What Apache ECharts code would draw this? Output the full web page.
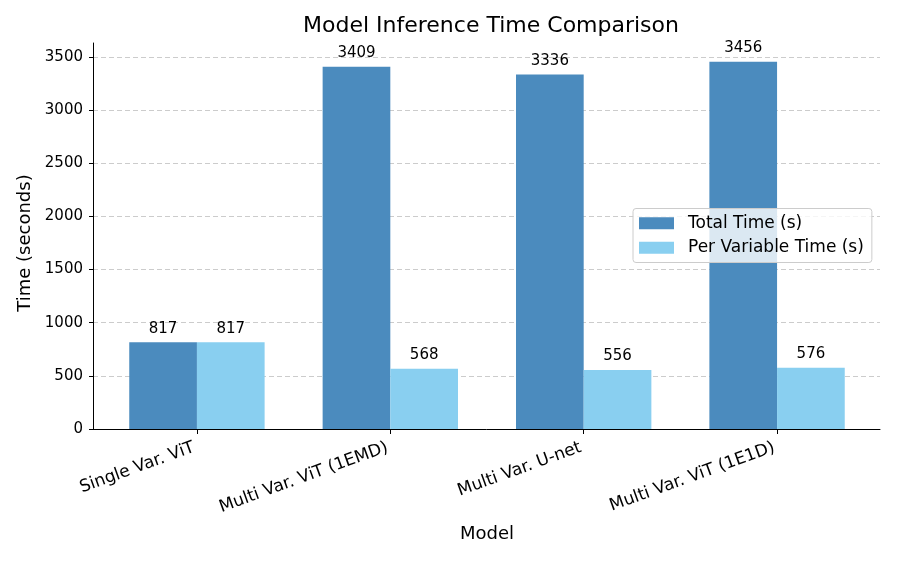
<!DOCTYPE html>
<html><head><meta charset="utf-8">
<script src="https://cdn.jsdelivr.net/npm/echarts@6/dist/echarts.min.js"></script>
<style>html,body{margin:0;padding:0;background:#fff}#c{width:897px;height:561px}</style>
</head><body><div id="c"></div>
<script>
const categories = ['Single Var. ViT', 'Multi Var. ViT (1EMD)', 'Multi Var. U-net', 'Multi Var. ViT (1E1D)'];
const totalTime = [817, 3409, 3336, 3456];
const perVarTime = [817, 568, 556, 576];
const seriesNames = ['Total Time (s)', 'Per Variable Time (s)'];

const F = 'DejaVu Sans';
const chart = echarts.init(document.getElementById('c'));
const lbl = {show: true, position: 'top', distance: 6, color: '#000', fontSize: 15, fontFamily: F};
chart.setOption({
  animation: false,
  textStyle: {fontFamily: F},
  title: {text: 'Model Inference Time Comparison', left: 486, top: 10, textAlign: 'center',
    textStyle: {fontFamily: F, fontSize: 22, fontWeight: 'normal', color: '#000'}},
  legend: {orient: 'vertical', left: 633, top: 208.5, itemWidth: 35, itemHeight: 12, itemGap: 4.5,
    icon: 'rect',
    padding: [4.75, 8, 4.75, 6], borderColor: '#ccc', borderWidth: 1, borderRadius: 3,
    backgroundColor: 'rgba(255,255,255,0.8)',
    textStyle: {fontFamily: F, fontSize: 17, lineHeight: 20, color: '#000', padding: [0, 0, 0, 9]},
    data: seriesNames},
  grid: [
    {left: 100.25, right: 23.25, top: 57, bottom: 132},
    {left: 93, right: 17, top: 57, bottom: 132},
    {left: 93, right: 17, top: 43, bottom: 132}
  ],
  xAxis: [
    {type: 'category', gridIndex: 0, data: categories, boundaryGap: true,
      axisLine: {show: false},
      axisTick: {show: true, alignWithLabel: true, length: 5, lineStyle: {color: '#000'}},
      axisLabel: {rotate: 20, color: '#000', fontSize: 17, fontFamily: F, margin: 17, interval: 0,
        padding: [0, 3, 0, 0]},
      name: 'Model', nameLocation: 'middle', nameGap: 96,
      nameTextStyle: {fontFamily: F, fontSize: 18, color: '#000'}},
    {type: 'value', gridIndex: 1, min: 0, max: 1,
      axisLine: {show: true, lineStyle: {color: '#000', width: 1}},
      axisTick: {show: false}, axisLabel: {show: false}, splitLine: {show: false}},
    {type: 'value', gridIndex: 2, min: 0, max: 1, show: false}
  ],
  yAxis: [
    {type: 'value', gridIndex: 0, min: 0, max: 3500, show: false, splitLine: {show: false}},
    {type: 'value', gridIndex: 1, min: 0, max: 3500, interval: 500,
      axisLine: {show: false},
      axisTick: {show: true, length: 4, lineStyle: {color: '#000'}},
      axisLabel: {color: '#000', fontSize: 15, fontFamily: F, margin: 10,
        formatter: v => String(v)},
      splitLine: {show: true, lineStyle: {color: '#ccc', type: [5, 3], width: 1}},
      name: 'Time (seconds)', nameLocation: 'middle', nameGap: 54,
      nameTextStyle: {fontFamily: F, fontSize: 18, color: '#000'}},
    {type: 'value', gridIndex: 2, min: 0, max: 1,
      axisLine: {show: true, lineStyle: {color: '#000', width: 1}},
      axisTick: {show: false}, axisLabel: {show: false}, splitLine: {show: false}}
  ],
  series: [
    {name: seriesNames[0], type: 'bar', xAxisIndex: 0, yAxisIndex: 0, data: totalTime,
      barWidth: '35%', barGap: '0%', itemStyle: {color: '#4b8bbe'}, label: lbl},
    {name: seriesNames[1], type: 'bar', xAxisIndex: 0, yAxisIndex: 0, data: perVarTime,
      barWidth: '35%', barGap: '0%', itemStyle: {color: '#89cff0'}, label: lbl}
  ]
});
</script></body></html>
